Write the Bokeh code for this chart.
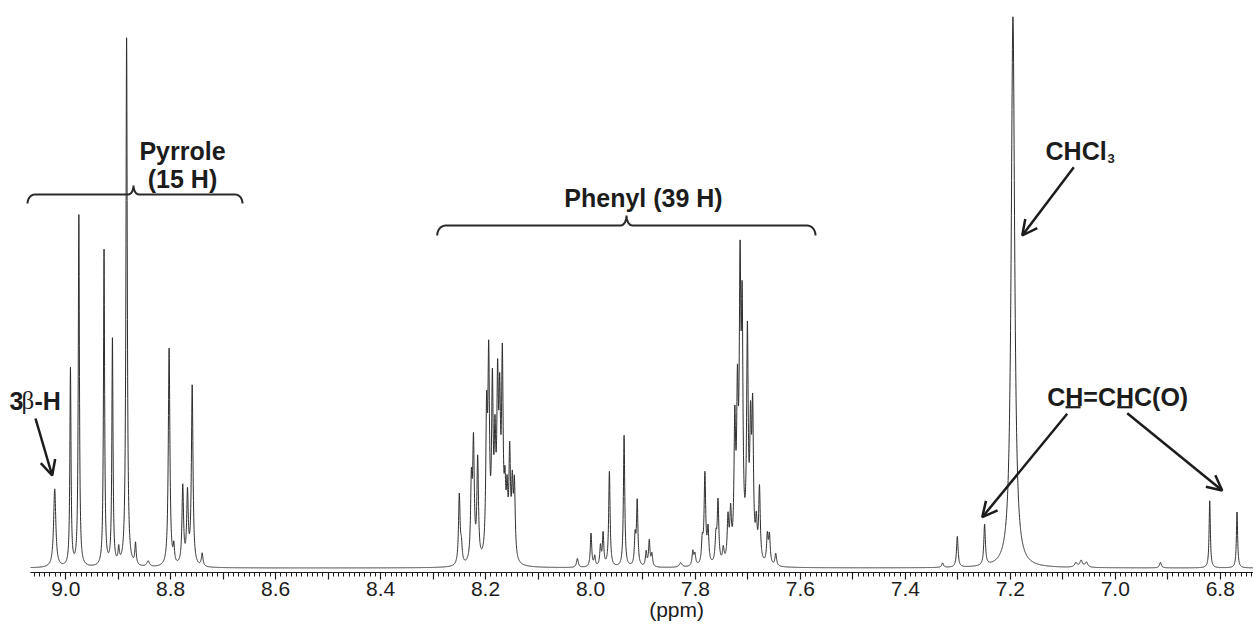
import numpy as np
from bokeh.plotting import figure
from bokeh.models import (Range1d, FixedTicker, CustomJSTickFormatter, Label,
                          Arrow, OpenHead, ColumnDataSource, LinearAxis)
from bokeh.embed import file_html
from bokeh.resources import INLINE

# ---------------- data ----------------
# peak position (ppm), apparent height (arbitrary units), half width (ppm)
pyrrole_ppm = [9.021, 8.991, 8.975, 8.927, 8.911, 8.899, 8.884, 8.867, 8.843,
               8.803, 8.794, 8.777, 8.768, 8.759, 8.740]
pyrrole_height = [14.0, 35.3, 62.8, 56.5, 40.4, 2.6, 94.5, 3.8, 1.0,
                  39.0, 3.0, 14.0, 12.5, 32.0, 2.3]
pyrrole_hwhm = [0.0025, 0.0013, 0.0013, 0.0013, 0.0013, 0.0015, 0.0015, 0.0015, 0.003,
                0.0018, 0.0015, 0.0018, 0.0018, 0.0018, 0.0018]

phenyl1_ppm = [8.250, 8.246, 8.227, 8.223, 8.215, 8.198, 8.194, 8.187, 8.182,
               8.177, 8.173, 8.168, 8.163, 8.159, 8.154, 8.149, 8.145]
phenyl1_height = [12.5, 3.0, 13.5, 20.5, 18.0, 24.0, 33.5, 29.0, 18.0,
                  28.0, 24.0, 33.5, 10.0, 10.0, 18.0, 12.0, 13.0]
phenyl1_hwhm = [0.0018] * 17

phenyl2_ppm = [8.025, 7.999, 7.992, 7.981, 7.976, 7.964, 7.936, 7.915, 7.911,
               7.894, 7.888, 7.883]
phenyl2_height = [1.6, 6.0, 1.8, 3.5, 5.8, 17.0, 23.5, 5.0, 11.5, 2.6, 4.6, 2.2]
phenyl2_hwhm = [0.002, 0.0016, 0.0016, 0.0016, 0.0016, 0.0016, 0.0015, 0.0016,
                0.0016, 0.0016, 0.0016, 0.0016]

phenyl3_ppm = [7.828, 7.805, 7.801, 7.787, 7.782, 7.776, 7.761, 7.757, 7.747,
               7.738, 7.733, 7.725, 7.720, 7.715, 7.711, 7.701, 7.695, 7.691,
               7.684, 7.678, 7.663, 7.659, 7.647]
phenyl3_height = [0.8, 2.6, 2.0, 4.0, 16.0, 6.0, 4.5, 11.0, 2.5,
                  7.5, 8.0, 23.0, 26.0, 47.0, 40.0, 39.0, 21.0, 25.0,
                  6.0, 13.0, 5.0, 5.0, 2.2]
phenyl3_hwhm = [0.003] + [0.0018] * 22

other_ppm = [7.329, 7.301, 7.249, 7.195, 7.075, 7.065, 7.055, 6.914, 6.820, 6.768]
other_height = [0.8, 5.5, 7.3, 98.5, 0.8, 1.2, 0.9, 1.0, 12.0, 10.0]
other_hwhm = [0.002, 0.0018, 0.0018, 0.004, 0.003, 0.003, 0.003, 0.002, 0.0014, 0.0014]

tick_values = [9.0, 8.9, 8.8, 8.7, 8.6, 8.5, 8.4, 8.3, 8.2, 8.1, 8.0, 7.9,
               7.8, 7.7, 7.6, 7.5, 7.4, 7.3, 7.2, 7.1, 7.0, 6.9, 6.8]
tick_labels = ["9.0", "", "8.8", "", "8.6", "", "8.4", "", "8.2", "", "8.0", "",
               "7.8", "", "7.6", "", "7.4", "", "7.2", "", "7.0", "", "6.8"]
minor_tick_values = [round(9.06 - 0.01 * i, 2) for i in range(233)]
axis_title = "(ppm)"
axis_title_ppm = 7.836

# spectrum extent (ppm) and visible window
SPEC_START, SPEC_END = 9.0671, 6.7366
VIEW_START = 9.1243

# ---------------- build spectrum from the peak list ----------------
ppm_all = pyrrole_ppm + phenyl1_ppm + phenyl2_ppm + phenyl3_ppm + other_ppm
h_all = pyrrole_height + phenyl1_height + phenyl2_height + phenyl3_height + other_height
w_all = pyrrole_hwhm + phenyl1_hwhm + phenyl2_hwhm + phenyl3_hwhm + other_hwhm

x = np.arange(SPEC_END, SPEC_START, 0.0002)
y = np.zeros_like(x)
for c, h, g in zip(ppm_all, h_all, w_all):
    y += h * g * g / ((x - c) ** 2 + g * g)

src = ColumnDataSource(dict(x=x, y=y))

INK = "#1c1c1c"
FONT = "Liberation Sans"

p = figure(width=1253, height=626, x_range=Range1d(VIEW_START, SPEC_END),
           y_range=Range1d(-0.8, 101.43), output_backend="svg",
           toolbar_location=None, y_axis_location=None,
           min_border_left=0, min_border_right=0, min_border_top=0,
           min_border_bottom=54)
p.grid.visible = False
p.outline_line_color = None
p.background_fill_color = "white"
p.border_fill_color = "white"

p.line("x", "y", source=src, line_color="#2e2e2e", line_width=1.0)

xa = p.xaxis[0]
xa.bounds = (SPEC_START, SPEC_END)
xa.ticker = FixedTicker(ticks=tick_values, minor_ticks=minor_tick_values)
xa.formatter = CustomJSTickFormatter(args=dict(vals=tick_values, labs=tick_labels), code="""
    let best = 0, d = 1e9;
    for (let i = 0; i < vals.length; i++) {
        const dd = Math.abs(vals[i] - tick);
        if (dd < d) { d = dd; best = i; }
    }
    return labs[best];
""")
xa.major_tick_in = 0
xa.major_tick_out = 7
xa.minor_tick_in = 0
xa.minor_tick_out = 4
xa.axis_line_color = INK
xa.axis_line_width = 1.2
xa.major_tick_line_color = INK
xa.minor_tick_line_color = INK
xa.major_tick_line_width = 1.2
xa.minor_tick_line_width = 1.0
xa.major_label_text_font = FONT
xa.major_label_text_font_size = "21px"
xa.major_label_text_color = INK
xa.major_label_standoff = 2

# axis title placed at its reference position via a label-only axis
title_axis = LinearAxis(
    ticker=FixedTicker(ticks=[axis_title_ppm]),
    formatter=CustomJSTickFormatter(args=dict(t=axis_title), code="return t;"),
    axis_line_color=None, major_tick_line_color=None, minor_tick_line_color=None,
    major_tick_in=0, major_tick_out=0, minor_tick_in=0, minor_tick_out=0,
    major_label_standoff=-1, major_label_text_font=FONT,
    major_label_text_font_size="21px", major_label_text_color=INK)
p.add_layout(title_axis, "below")


def brace(xl, xt, xr, ybar, yend, ytip, rx, rx2, n=10):
    ut, ur = xl - xt, xl - xr
    us, ys = [], []
    for t in np.linspace(np.pi, np.pi / 2, n):
        us.append(rx + rx * np.cos(t)); ys.append(yend + (ybar - yend) * np.sin(t))
    ry = ytip - ybar
    for t in np.linspace(-np.pi / 2, 0, n):
        us.append(ut - rx2 + rx2 * np.cos(t)); ys.append(ytip + ry * np.sin(t))
    for t in np.linspace(np.pi, 1.5 * np.pi, n):
        us.append(ut + rx2 + rx2 * np.cos(t)); ys.append(ytip + ry * np.sin(t))
    for t in np.linspace(np.pi / 2, 0, n):
        us.append(ur - rx + rx * np.cos(t)); ys.append(yend + (ybar - yend) * np.sin(t))
    return [xl - u for u in us], ys


bx, by = brace(9.0728, 8.8708, 8.6631, 66.76, 65.15, 68.37, 0.014, 0.010)
p.line(bx, by, line_color="#2a2a2a", line_width=2)
bx, by = brace(8.2921, 7.9314, 7.5712, 61.22, 59.43, 63.01, 0.016, 0.011)
p.line(bx, by, line_color="#2a2a2a", line_width=2)


def lab(xv, yv, text, size="25px", style="bold", align="center", font=FONT):
    p.add_layout(Label(x=xv, y=yv, text=text, text_align=align,
                       text_baseline="middle", text_font=font,
                       text_font_size=size, text_font_style=style,
                       text_color=INK))


lab(8.7775, 74.62, "Pyrrole")
lab(8.7775, 69.44, "(15 H)")
lab(7.899, 66.22, "Phenyl (39 H)")
lab(9.1071, 29.94, "3", align="left")
lab(9.0843, 29.94, "β", style="normal", align="left", font="Liberation Serif")
lab(9.0595, 29.94, "-H", align="left")
lab(7.1329, 74.62, "CHCl", align="left")
lab(7.0148, 73.2, "3", size="13px", align="left")
lab(7.1297, 30.53, "CH=CHC(O)", align="left")

p.segment(x0=[7.0948, 6.9963], x1=[7.0662, 6.9677], y0=[28.74, 28.74],
          y1=[28.74, 28.74], line_color=INK, line_width=2.2)


def arrow(x0, y0, x1, y1):
    p.add_layout(Arrow(end=OpenHead(size=15, line_width=2.5, line_color=INK),
                       x_start=x0, y_start=y0, x_end=x1, y_end=y1,
                       line_width=2.5, line_color=INK))


arrow(9.0576, 26.72, 9.0258, 16.54)
arrow(7.079, 71.64, 7.1773, 59.43)
arrow(7.0916, 27.56, 7.2535, 9.08)
arrow(6.9772, 27.67, 6.7962, 13.86)

open("out.html", "w").write(file_html(p, INLINE))
